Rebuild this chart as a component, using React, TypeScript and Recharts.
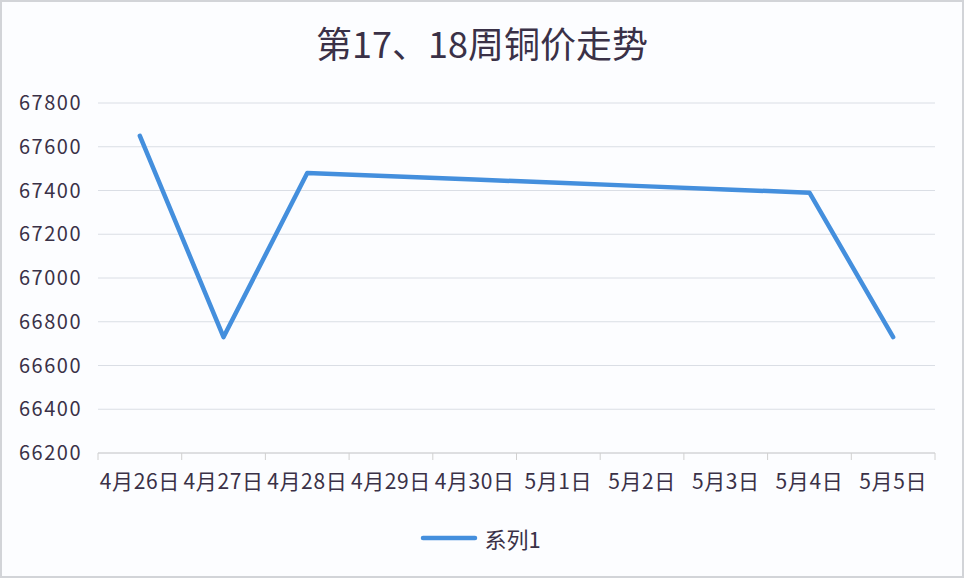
import React from 'react';
import { LineChart, Line, XAxis, YAxis, CartesianGrid, Legend } from 'recharts';

// 第17、18周 copper price
const dates = ['4月26日', '4月27日', '4月28日', '4月29日', '4月30日', '5月1日', '5月2日', '5月3日', '5月4日', '5月5日'];
const prices = [67650, 66730, 67480, 67465, 67450, 67435, 67420, 67405, 67390, 66730];
const yTicks = [66200, 66400, 66600, 66800, 67000, 67200, 67400, 67600, 67800];
const seriesName = '系列1';
const title = '第17、18周铜价走势';

const W = 964;
const H = 578;
const LEFT = 98;
const RIGHT = 29;
const PLOT_BOTTOM = 453;
const BAND = (W - LEFT - RIGHT) / dates.length;

const FONT = '"Noto Sans CJK SC", "Noto Sans", sans-serif';
const TEXT = '#3a3147';
const LINE = '#448fdd';

const chartData = dates.map((d, i) => ({ date: d, value: prices[i] }));

const DateTick = (props: any) => {
  const { x, y, payload, index } = props;
  return (
    <g>
      <line x1={x - BAND / 2} y1={PLOT_BOTTOM} x2={x - BAND / 2} y2={PLOT_BOTTOM + 7} stroke="#d0d0d0" />
      {index === dates.length - 1 && (
        <line x1={x + BAND / 2} y1={PLOT_BOTTOM} x2={x + BAND / 2} y2={PLOT_BOTTOM + 7} stroke="#d0d0d0" />
      )}
      <text x={x} y={y} dy="0.71em" textAnchor="middle" fill={TEXT} fontSize={21} letterSpacing={0.6} fontFamily={FONT}>
        {payload.value}
      </text>
    </g>
  );
};

// legend box spans the width minus the right margin, so nudge it back to the page centre
const LegendContent = () => (
  <div style={{ height: 40, display: 'flex', alignItems: 'center', justifyContent: 'center', fontFamily: FONT, paddingLeft: 26 }}>
    <svg width={58} height={10} style={{ marginRight: 6 }}>
      <line x1={3} y1={5} x2={55} y2={5} stroke={LINE} strokeWidth={4.5} strokeLinecap="round" />
    </svg>
    <span style={{ fontSize: 22, color: TEXT }}>{seriesName}</span>
  </div>
);

export default function App() {
  return (
    <div style={{ position: 'absolute', top: 0, left: 0, width: W, height: H, background: '#fcfdff' }}>
      <div
        style={{
          position: 'absolute',
          top: 19,
          left: 0,
          width: W,
          textAlign: 'center',
          fontFamily: FONT,
          fontSize: 36,
          color: TEXT,
          lineHeight: '46px',
        }}
      >
        {title}
      </div>
      <LineChart
        width={W}
        height={H}
        data={chartData}
        margin={{ top: 103, right: RIGHT, left: 0, bottom: 20 }}
      >
        <CartesianGrid vertical={false} stroke="#dadee5" strokeWidth={1} />
        <XAxis
          dataKey="date"
          scale="band"
          height={65}
          tickLine={false}
          axisLine={{ stroke: '#d0d0d0' }}
          tickMargin={15}
          interval={0}
          tick={<DateTick />}
        />
        <YAxis
          width={LEFT}
          domain={[66200, 67800]}
          ticks={yTicks}
          interval={0}
          axisLine={false}
          tickLine={false}
          tickMargin={10}
          tick={{ fill: TEXT, fontSize: 20, fontFamily: FONT, letterSpacing: 1.5 }}
        />
        <Legend verticalAlign="bottom" align="center" height={40} content={<LegendContent />} />
        <Line
          type="linear"
          dataKey="value"
          name={seriesName}
          stroke={LINE}
          strokeWidth={4.5}
          strokeLinejoin="round"
          strokeLinecap="round"
          dot={false}
          activeDot={false}
          isAnimationActive={false}
        />
      </LineChart>
      <div
        style={{
          position: 'absolute',
          inset: 0,
          border: '2px solid #d2d4d8',
          pointerEvents: 'none',
        }}
      />
    </div>
  );
}
